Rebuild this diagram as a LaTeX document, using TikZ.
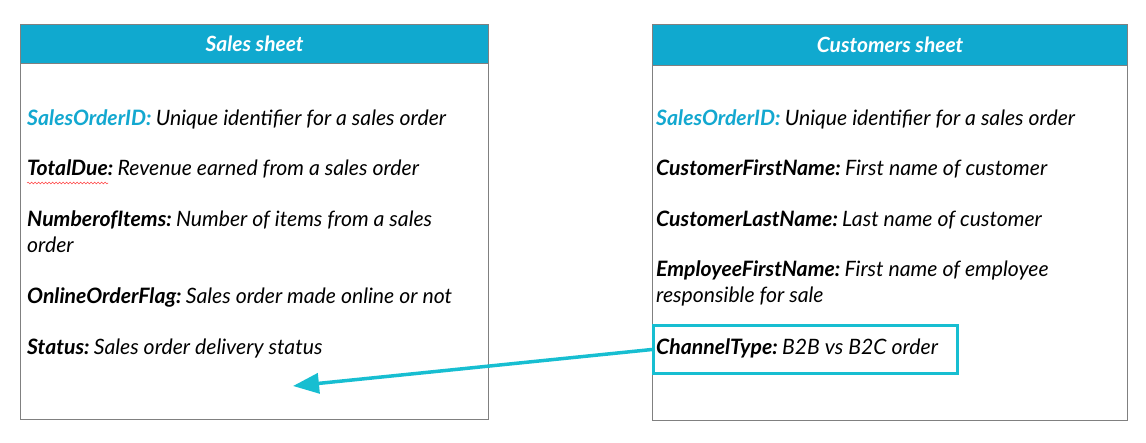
\documentclass[tikz,border=0pt]{standalone}
\usepackage{fontspec}
\setmainfont{Lato}
\usetikzlibrary{arrows.meta,positioning,decorations.pathmorphing}
\definecolor{headFill}{HTML}{10A9CF}
\definecolor{keyText}{HTML}{13A8D0}
\definecolor{hiliteDraw}{HTML}{17BED1}
\definecolor{frameDraw}{HTML}{808080}
\tikzset{
  font=\fontsize{21.2}{26}\selectfont\itshape,
  sheet/.style ={draw=frameDraw, line width=1.2pt, fill=white, inner sep=0pt},
  head/.style  ={sheet, fill=headFill, text=white, font=\fontsize{21}{26}\selectfont\bfseries\itshape},
  field/.style ={anchor=base west, align=left, inner sep=0pt},
  hilite/.style={draw=hiliteDraw, line width=3pt, inner sep=0pt},
  arr/.style   ={-{Triangle[length=26pt,width=20pt]}, line width=3.5pt, draw=hiliteDraw},
  squig/.style ={draw=red!75, line width=0.5pt, decorate, decoration={snake, amplitude=0.9pt, segment length=3.5pt}},
}
\newcommand{\fkey}[1]{\textbf{#1:}\hspace{0.2em}}
\newcommand{\fid}{\textcolor{keyText}{\textbf{SalesOrderID:}}\hspace{0.2em}}

\begin{document}
\begin{tikzpicture}[x=1pt,y=1pt]
  \useasboundingbox (0,0) rectangle (1146,442);

  % the two sheets, each with its header strip
  \node[sheet, anchor=north west, minimum width=468pt, minimum height=395pt] (sales) at (20,418) {};
  \node[head, anchor=north west, minimum width=468pt, minimum height=39pt] (salesHead) at (sales.north west) {Sales sheet};
  \node[sheet, anchor=north west, minimum width=475pt, minimum height=396pt] (cust) at (652,418) {};
  \node[head, anchor=north west, minimum width=475pt, minimum height=41pt] (custHead) at (cust.north west) {Customers sheet};

  % fields of the sales sheet (base of a two-line node is its last line)
  \node[field] (sId)    at (27,316) {\fid Unique identifier for a sales order};
  \node[field] (tDue)   at (27,266) {\fkey{TotalDue}Revenue earned from a sales order};
  \node[field] (nItems) at (27,189) {\fkey{NumberofItems}Number of items from a sales\\order};
  \node[field] (oFlag)  at (27,138) {\fkey{OnlineOrderFlag}Sales order made online or not};
  \node[field] (status) at (27,87)  {\fkey{Status}Sales order delivery status};
  \draw[squig] ([yshift=-7pt]tDue.base west) -- ([xshift=81pt,yshift=-7pt]tDue.base west);

  % fields of the customers sheet
  \node[field] (cId)    at (656,316) {\fid Unique identifier for a sales order};
  \node[field] (cFirst) at (656,266) {\fkey{CustomerFirstName}First name of customer};
  \node[field] (cLast)  at (656,215) {\fkey{CustomerLastName}Last name of customer};
  \node[field] (eFirst) at (656,139) {\fkey{EmployeeFirstName}First name of employee\\responsible for sale};
  \node[field] (cType)  at (656,88)  {\fkey{ChannelType}B2B vs B2C order};

  % highlighted field and where it goes
  \node[hilite, anchor=north west, minimum width=304pt, minimum height=48pt] (cTypeBox) at (652,118) {};
  \coordinate (salesSlot) at (293,56);
  \draw[arr] (cTypeBox.west) -- (salesSlot);
\end{tikzpicture}
\end{document}
